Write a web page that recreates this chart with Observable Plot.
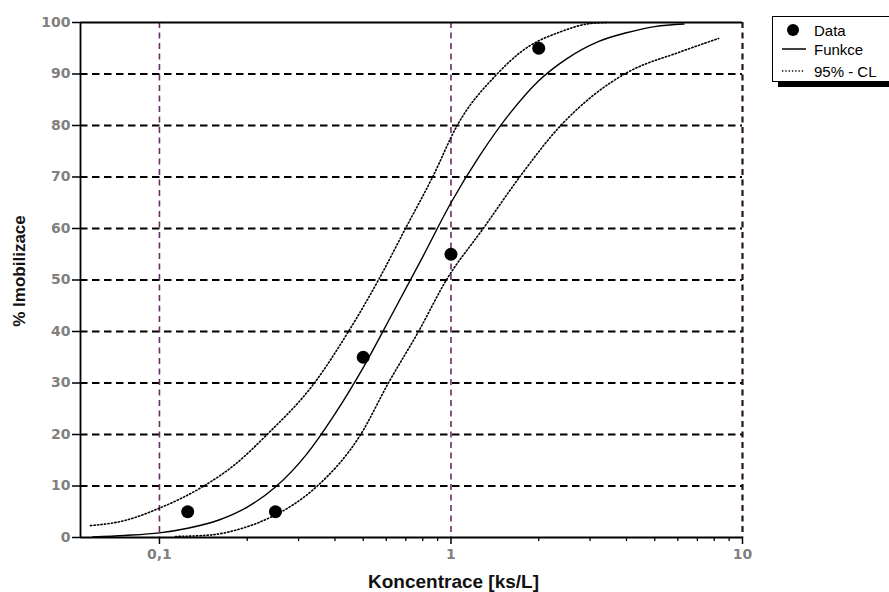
<!DOCTYPE html>
<html><head><meta charset="utf-8">
<script src="https://cdn.jsdelivr.net/npm/d3@7"></script>
<script src="https://cdn.jsdelivr.net/npm/@observablehq/plot@0.6"></script>
<style>
body{margin:0;background:#fff;font-family:"Liberation Sans",Arial,sans-serif;overflow:hidden;}
#wrap{position:relative;width:889px;height:592px;overflow:hidden;}
#legend{position:absolute;left:772px;top:16px;width:125px;height:64px;border:1px solid #000;box-shadow:6px 5px 0 #000;background:#fff;font-size:15px;color:#000;}
#legend .row{position:absolute;left:0;height:18px;display:flex;align-items:center;white-space:nowrap;}
#legend svg{display:block;}
#legend span{margin-left:8px;}
</style></head><body><div id="wrap"><div id="legend"></div></div>
<script>
// measured data points
const dataConc = [0.125, 0.25, 0.5, 1, 2];
const dataImob = [5, 5, 35, 55, 95];
// fitted function
const funkceConc = [0.059, 0.076, 0.1, 0.125, 0.16, 0.2, 0.25, 0.32, 0.4, 0.5, 0.63, 0.8, 1.0, 1.25, 1.6, 2.0, 2.5, 3.2, 4.0, 5.0, 6.3];
const funkceImob = [0.1, 0.4, 0.9, 1.8, 3.4, 5.9, 9.8, 16.2, 24, 33, 43.5, 54.5, 65, 74, 82.5, 88.7, 93, 96.3, 98, 99.2, 99.7];
// 95% confidence limits
const upperConc = [0.058, 0.076, 0.099, 0.142, 0.18, 0.234, 0.34, 0.445, 0.564, 0.698, 0.865, 1.05, 1.44, 1.73, 2.43, 3.0, 3.47];
const upperImob = [2.3, 3.3, 5.6, 10, 14, 20, 30, 40, 50, 60, 70, 80, 90, 94.2, 98.4, 99.8, 100];
const lowerConc = [0.1135, 0.15, 0.19, 0.24, 0.29, 0.348, 0.49, 0.61, 0.774, 0.964, 1.29, 1.72, 2.38, 3.1, 4.03, 6.12, 8.28];
const lowerImob = [0.2, 0.5, 1.7, 3.9, 6.5, 10, 20, 30, 40, 50, 60, 70, 80, 86, 90.3, 94.3, 96.9];
// axes
const xDomain = [0.0536, 10];
const yDomain = [0, 100];
const yTicks = [0, 10, 20, 30, 40, 50, 60, 70, 80, 90, 100];
const yGrid = [10, 20, 30, 40, 50, 60, 70, 80, 90];
const xTicks = [0.1, 1, 10];
const xTickLabels = ["0,1", "1", "10"];
const xGrid = [0.1, 1];
const xMinorTicks = [0.2, 0.3, 0.4, 0.5, 0.6, 0.7, 0.8, 0.9, 2, 3, 4, 5, 6, 7, 8, 9];
const xLabel = "Koncentrace [ks/L]";
const yLabel = "% Imobilizace";
const legendLabels = ["Data", "Funkce", "95% - CL"];

const pts = dataConc.map((x, i) => ({x, y: dataImob[i]}));
const fun = funkceConc.map((x, i) => ({x, y: funkceImob[i]}));
const up = upperConc.map((x, i) => ({x, y: upperImob[i]}));
const lo = lowerConc.map((x, i) => ({x, y: lowerImob[i]}));

const dotted = {stroke: "#000", strokeWidth: 1.6, strokeDasharray: "1.3,2.2", curve: "monotone-x"};
const tickFont = {fill: "#808080", fontWeight: "bold", fontSize: 14, fontFamily: "DejaVu Sans, Verdana, sans-serif"};

const chart = Plot.plot({
  width: 889, height: 592,
  marginLeft: 80, marginRight: 147, marginTop: 22, marginBottom: 55,
  style: {fontFamily: "Liberation Sans, Arial, sans-serif", fontSize: "12px", background: "#fff"},
  x: {type: "log", domain: xDomain},
  y: {domain: yDomain},
  marks: [
    Plot.ruleY(yGrid, {stroke: "#000", strokeWidth: 1.9, strokeDasharray: "7.5,4.5"}),
    Plot.ruleX(xGrid, {stroke: "#6b2c62", strokeWidth: 1.6, strokeDasharray: "6,4.5"}),
    Plot.ruleX([xDomain[1]], {stroke: "#2a1028", strokeWidth: 2.2, strokeDasharray: "6,4.5"}),
    Plot.ruleY([yDomain[1]], {stroke: "#000", strokeWidth: 1.8}),
    Plot.ruleY([yDomain[0]], {stroke: "#000", strokeWidth: 1.8}),
    Plot.ruleX([xDomain[0]], {stroke: "#000", strokeWidth: 1.8}),
    Plot.line(up, {x: "x", y: "y", ...dotted}),
    Plot.line(lo, {x: "x", y: "y", ...dotted}),
    Plot.line(fun, {x: "x", y: "y", stroke: "#000", strokeWidth: 1.4, curve: "monotone-x"}),
    Plot.dot(pts, {x: "x", y: "y", r: 6.5, fill: "#000", stroke: "none"}),
    Plot.axisY({ticks: yTicks, tickSize: 8, tickPadding: 2, label: null, stroke: "#000", strokeWidth: 1.5, ...tickFont}),
    Plot.axisX({ticks: xTicks, tickSize: 7, tickPadding: 5, label: null, stroke: "#000", strokeWidth: 1.5, ...tickFont,
      tickFormat: d => xTickLabels[xTicks.indexOf(d)]}),
    Plot.axisX({ticks: xMinorTicks, tickSize: 4, label: null, stroke: "#000", strokeWidth: 1.3, tickFormat: () => ""}),
    Plot.text([xLabel], {text: d => d, frameAnchor: "bottom", dx: 42, dy: 44, lineAnchor: "middle", textAnchor: "middle", fontWeight: "bold", fontSize: 19, fill: "#111"}),
    Plot.text([yLabel], {text: d => d, frameAnchor: "left", dx: -61, dy: -9, rotate: -90, textAnchor: "middle", lineAnchor: "middle", fontWeight: "bold", fontSize: 17, fill: "#111"})
  ]
});
document.getElementById("wrap").prepend(chart);

// legend
const leg = document.getElementById("legend");
const rows = [
  {top: 4, sym: '<svg width="33" height="18"><circle cx="20" cy="9" r="6" fill="#000"/></svg>'},
  {top: 23, sym: '<svg width="33" height="18"><line x1="9" x2="33" y1="9" y2="9" stroke="#000" stroke-width="1.5"/></svg>'},
  {top: 45, sym: '<svg width="33" height="18"><line x1="9" x2="31" y1="9" y2="9" stroke="#000" stroke-width="1.6" stroke-dasharray="1.3,2"/></svg>'}
];
rows.forEach((r, i) => {
  const div = document.createElement("div");
  div.className = "row";
  div.style.top = r.top + "px";
  div.innerHTML = r.sym + "<span>" + legendLabels[i] + "</span>";
  leg.appendChild(div);
});
</script>
</body></html>
